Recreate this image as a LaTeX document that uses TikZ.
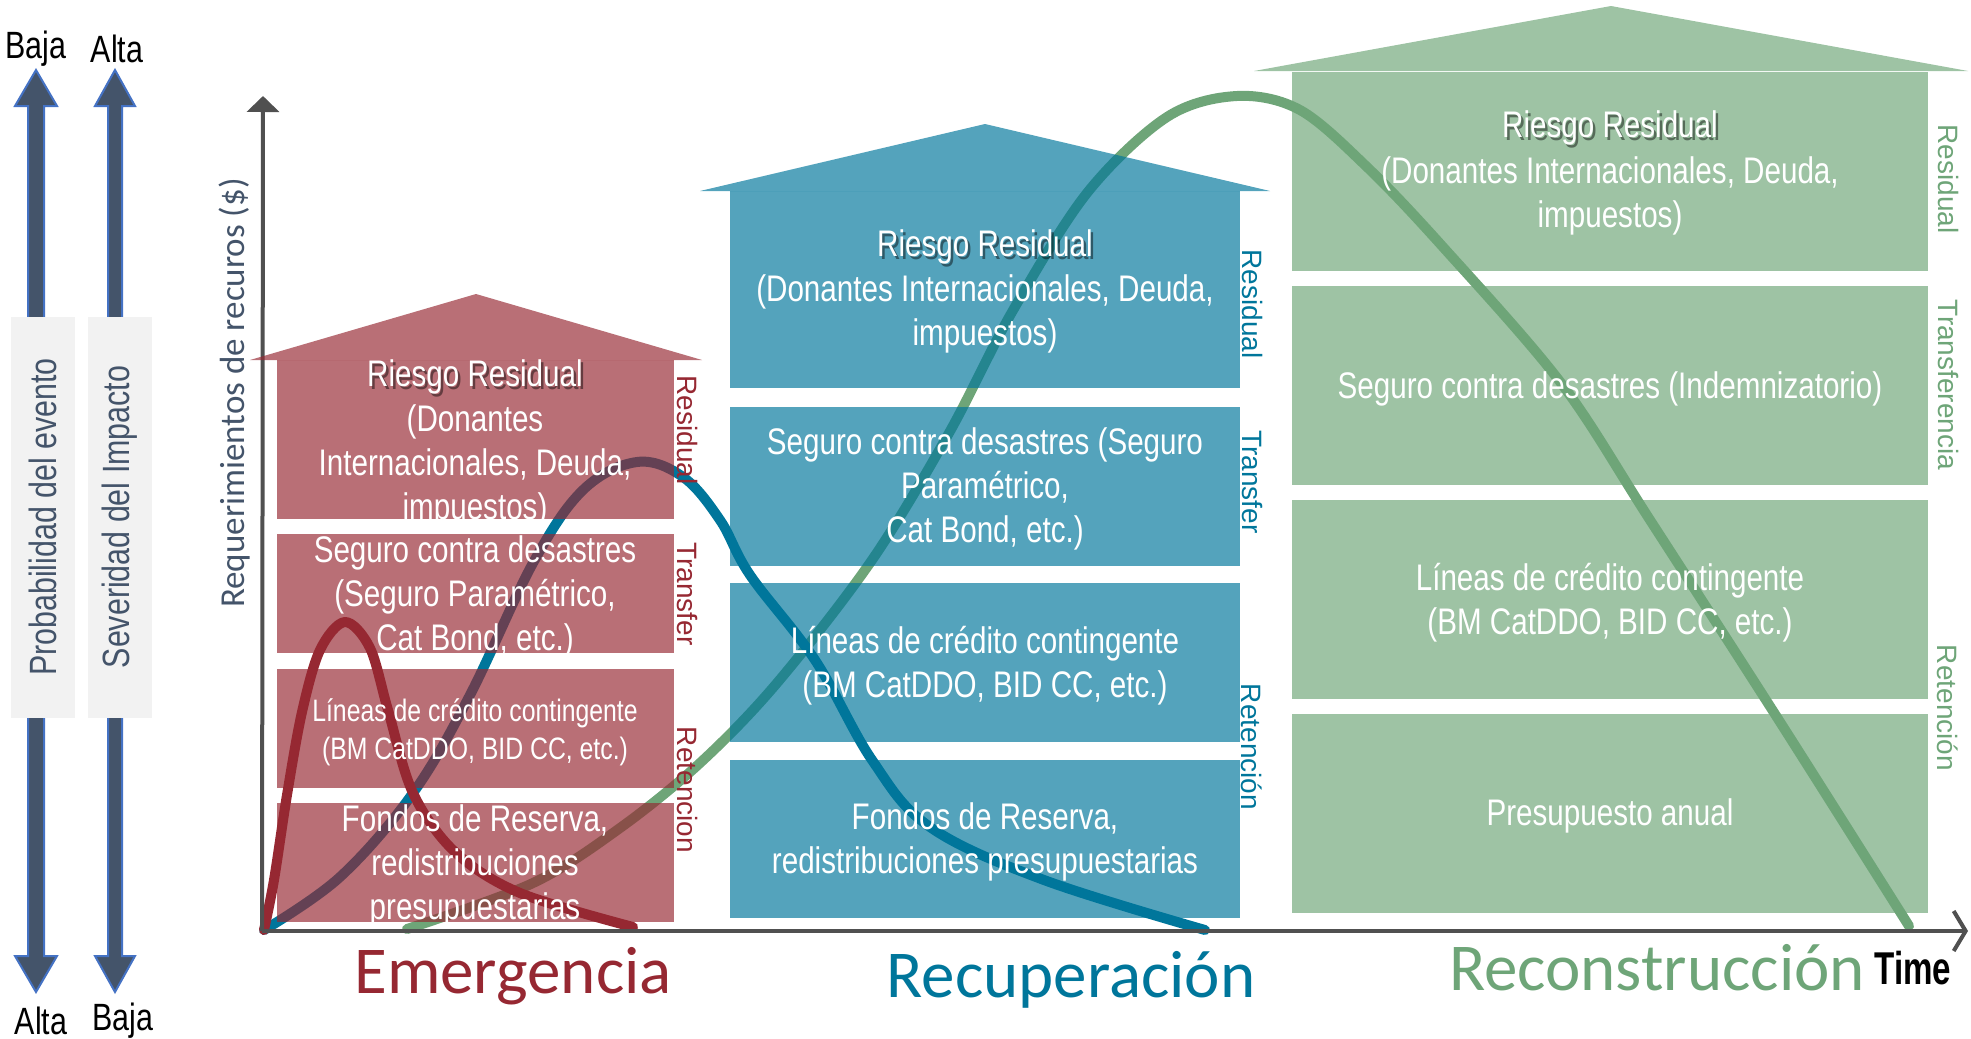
\documentclass[tikz,border=0pt]{standalone}
\usepackage{fontspec}
\setmainfont{Liberation Sans}
\newfontfamily\narrowfont[FakeStretch=0.8]{Liberation Sans}
\newfontfamily\timefont[FakeStretch=0.72]{Liberation Sans}
\newfontfamily\calfont{Carlito}
\usetikzlibrary{arrows.meta}
\definecolor{cRed}{RGB}{150,40,50}
\definecolor{cBlue}{RGB}{0,118,155}
\definecolor{cGreen}{RGB}{110,165,120}
\definecolor{slate}{RGB}{68,84,106}
\definecolor{arrowblue}{RGB}{68,114,196}
\definecolor{boxgray}{RGB}{242,242,242}
\definecolor{axisgray}{RGB}{80,80,80}
\tikzset{
  panel/.style={draw=none, inner sep=0, outer sep=0, fill opacity=0.67},
  boxtext/.style={text=white, align=center, inner sep=0,
    font=\narrowfont\fontsize{37}{44}\selectfont},
  smalltext/.style={text=white, align=center, inner sep=0,
    font=\narrowfont\fontsize{31}{38}\selectfont},
  shadowtext/.style={text=black, text opacity=0.45, align=center, inner sep=0,
    font=\narrowfont\fontsize{37}{44}\selectfont},
  sidelabel/.style={rotate=-90, inner sep=0, font=\fontsize{28}{30}\selectfont},
  phase/.style={anchor=base, inner sep=0, font=\calfont\fontsize{67}{70}\selectfont},
  curve/.style={line width=10pt, line cap=round, line join=round},
  axisline/.style={draw=axisgray, line width=4pt},
  grayband/.style={fill=boxgray, draw=none, inner sep=0},
  endlabel/.style={inner sep=0, font=\narrowfont\fontsize{38}{40}\selectfont},
  bigarrow/.style={fill=slate, draw=arrowblue, line width=2pt, line join=miter}
}
\begin{document}
\begin{tikzpicture}[x=1pt,y=-1pt]
\useasboundingbox (0,0) rectangle (1971,1039);

% ---------- left double arrows ----------
\path[bigarrow] (36,70) -- (57,106) -- (44,106) -- (44,956) -- (57,956) -- (36,992)
  -- (15,956) -- (28,956) -- (28,106) -- (15,106) -- cycle;
\path[bigarrow] (115,70) -- (135,106) -- (122,106) -- (122,956) -- (135,956) -- (115,992)
  -- (95,956) -- (108,956) -- (108,106) -- (95,106) -- cycle;
\node[grayband, minimum width=64pt, minimum height=401pt] (pband) at (43,517.5) {};
\node[grayband, minimum width=64pt, minimum height=401pt] (sband) at (120,517.5) {};
\node[rotate=90, text=slate, inner sep=0, font=\narrowfont\fontsize{38}{40}\selectfont] (plab) at (43,517) {Probabilidad del evento};
\node[rotate=90, text=slate, inner sep=0, font=\narrowfont\fontsize{38}{40}\selectfont] (slab) at (120,517) {Severidad del Impacto};
\node[endlabel] (tBaja) at (36,49) {Baja};
\node[endlabel] (tAlta) at (117,49) {Alta};
\node[endlabel] (bAlta) at (41,1021) {Alta};
\node[endlabel] (bBaja) at (123,1021) {Baja};

% ---------- axis label ----------
\node[rotate=90, text=slate, inner sep=0, font=\calfont\fontsize{35}{38}\selectfont] (ylab) at (235,393) {Requerimientos de recuros (\$)};

% ---------- curves ----------
\draw[curve, cGreen] plot[smooth, tension=0.55] coordinates {(407,929) (533,883) (620,828) (700,763) (777,683) (872,560) (949,433) (1012,312) (1087,193) (1167,117) (1237,96) (1300,110) (1367,167) (1443,247) (1561,383) (1650,520) (1780,722) (1909,926)};
\draw[curve, cBlue] plot[smooth, tension=0.6] coordinates {(264,930) (340,877) (413,793) (470,695) (533,563) (583,490) (637,462) (683,477) (720,520) (750,575) (815,660) (872,760) (930,827) (1044,880) (1205,930)};
\draw[curve, cRed] plot[smooth, tension=0.55] coordinates {(264,930) (274,880) (287,795) (302,712) (320,650) (345,622) (370,648) (388,710) (413,793) (455,852) (520,893) (633,927)};

% ---------- axes ----------
\coordinate (O) at (262,931);
\coordinate (ytip) at (263,96);
\coordinate (xtip) at (1968,931);
\draw[axisline, -{Triangle[length=16pt,width=32pt]}] (O) -- (ytip);
\draw[axisline, -{Straight Barb[length=12pt,width=40pt,line width=4pt]}] (O) -- (xtip);

% ---------- red panels ----------
\path[panel, fill=cRed] (250,360) -- (476,294) -- (702,360) -- cycle;
\node[panel, fill=cRed, minimum width=397pt, minimum height=159pt] (rA) at (475.5,439.5) {};
\node[panel, fill=cRed, minimum width=397pt, minimum height=119pt] (rB) at (475.5,593.5) {};
\node[panel, fill=cRed, minimum width=397pt, minimum height=119pt] (rC) at (475.5,728.5) {};
\node[panel, fill=cRed, minimum width=397pt, minimum height=119pt] (rD) at (475.5,862.5) {};

% ---------- blue panels ----------
\path[panel, fill=cBlue] (700,191) -- (985,124) -- (1270,191) -- cycle;
\node[panel, fill=cBlue, minimum width=510pt, minimum height=197pt] (bA) at (985,289.5) {};
\node[panel, fill=cBlue, minimum width=510pt, minimum height=159pt] (bB) at (985,486.5) {};
\node[panel, fill=cBlue, minimum width=510pt, minimum height=159pt] (bC) at (985,662.5) {};
\node[panel, fill=cBlue, minimum width=510pt, minimum height=158pt] (bD) at (985,839) {};

% ---------- green panels ----------
\path[panel, fill=cGreen] (1254,71) -- (1611,6) -- (1968,71) -- cycle;
\node[panel, fill=cGreen, minimum width=636pt, minimum height=199pt] (gA) at (1610,171.5) {};
\node[panel, fill=cGreen, minimum width=636pt, minimum height=199pt] (gB) at (1610,385.5) {};
\node[panel, fill=cGreen, minimum width=636pt, minimum height=199pt] (gC) at (1610,599.5) {};
\node[panel, fill=cGreen, minimum width=636pt, minimum height=199pt] (gD) at (1610,813.5) {};

% ---------- red texts ----------
\node[shadowtext] (rAs) at (477.5,379.5) {Riesgo Residual};
\node[boxtext] (rA1) at (475,377) {Riesgo Residual};
\begin{scope}
  \clip (rA.north west) rectangle (rA.south east);
  \node[boxtext] (rA2) at (475,466) {(Donantes\\Internacionales, Deuda,\\impuestos)};
\end{scope}
\node[boxtext] (rBt) at (475,597) {Seguro contra desastres\\(Seguro Paramétrico,\\Cat Bond, etc.)};
\node[smalltext] (rCt) at (475,732) {Líneas de crédito contingente\\(BM CatDDO, BID CC, etc.)};
\begin{scope}
  \clip (rD.north west) rectangle (rD.south east);
  \node[boxtext] (rDt) at (475,866) {Fondos de Reserva,\\redistribuciones\\presupuestarias};
\end{scope}

% ---------- blue texts ----------
\node[shadowtext] (bAs) at (987.5,249.5) {Riesgo Residual};
\node[boxtext] (bA1) at (985,247) {Riesgo Residual};
\node[boxtext] (bA2) at (985,314) {(Donantes Internacionales, Deuda,\\impuestos)};
\node[boxtext] (bBt) at (985,489) {Seguro contra desastres (Seguro\\Paramétrico,\\Cat Bond, etc.)};
\node[boxtext] (bCt) at (985,666) {Líneas de crédito contingente\\(BM CatDDO, BID CC, etc.)};
\node[boxtext] (bDt) at (985,842) {Fondos de Reserva,\\redistribuciones presupuestarias};

% ---------- green texts ----------
\node[shadowtext] (gAs) at (1612.5,130.5) {Riesgo Residual};
\node[boxtext] (gA1) at (1610,128) {Riesgo Residual};
\node[boxtext] (gA2) at (1610,196) {(Donantes Internacionales, Deuda,\\impuestos)};
\node[boxtext] (gBt) at (1610,389) {Seguro contra desastres (Indemnizatorio)};
\node[boxtext] (gCt) at (1610,603) {Líneas de crédito contingente\\(BM CatDDO, BID CC, etc.)};
\node[boxtext] (gDt) at (1610,816) {Presupuesto anual};

% ---------- side labels ----------
\node[sidelabel, text=cRed] (rRes) at (687,430) {Residual};
\node[sidelabel, text=cRed] (rTra) at (687,594) {Transfer};
\node[sidelabel, text=cRed] (rRet) at (687,790) {Retencion};
\node[sidelabel, text=cBlue] (bRes) at (1252,304) {Residual};
\node[sidelabel, text=cBlue] (bTra) at (1252,482) {Transfer};
\node[sidelabel, text=cBlue] (bRet) at (1252,747) {Retención};
\node[sidelabel, text=cGreen] (gRes) at (1948,179) {Residual};
\node[sidelabel, text=cGreen] (gTra) at (1948,385) {Transferencia};
\node[sidelabel, text=cGreen] (gRet) at (1948,708) {Retención};

% ---------- phase labels ----------
\node[phase, text=cRed] (emer) at (513,993) {Emergencia};
\node[phase, text=cBlue] (recu) at (1071,997) {Recuperación};
\node[phase, text=cGreen] (reco) at (1657,990) {Reconstrucción};
\node[inner sep=0, font=\timefont\bfseries\fontsize{46}{48}\selectfont] (time) at (1913,968) {Time};
\end{tikzpicture}
\end{document}
